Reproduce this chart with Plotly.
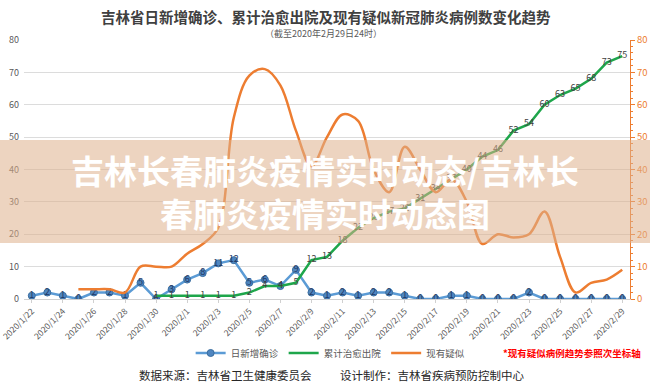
import plotly.graph_objects as go

dates = ['2020/1/22', '2020/1/23', '2020/1/24', '2020/1/25', '2020/1/26', '2020/1/27',
         '2020/1/28', '2020/1/29', '2020/1/30', '2020/1/31', '2020/2/1', '2020/2/2',
         '2020/2/3', '2020/2/4', '2020/2/5', '2020/2/6', '2020/2/7', '2020/2/8',
         '2020/2/9', '2020/2/10', '2020/2/11', '2020/2/12', '2020/2/13', '2020/2/14',
         '2020/2/15', '2020/2/16', '2020/2/17', '2020/2/18', '2020/2/19', '2020/2/20',
         '2020/2/21', '2020/2/22', '2020/2/23', '2020/2/24', '2020/2/25', '2020/2/26',
         '2020/2/27', '2020/2/28', '2020/2/29']

daily_new = [1, 2, 1, 0, 2, 2, 1, 5, 0, 3,
             6, 8, 11, 12, 5, 6, 4, 9, 2, 1,
             2, 1, 2, 2, 1, 0, 0, 1, 1, 0,
             0, 0, 2, 0, 0, 0, 0, 0, 0]

cured = [None, None, None, None, None, None, None, None,
         1, 1, 1, 1, 1, 1, 2, 4, 4, 5,
         12, 13, 18, 22, 25, 27, 28, 31, 34, 37,
         40, 44, 46, 52, 54, 60, 63, 65, 68, 73, 75]

suspected = [None, None, None, 3, 3, 3, 2, 10, 10, 10,
             14, 17, 22, 56, 69, 71, 66, 52, 41, 50,
             57, 55, 40, 33, 47, 40, 33, 37, 30, 17,
             20, 19, 20, 27, 13, 2, 5, 6, 9]

tick_dates = dates[::2]

BLUE = '#5b9bd5'
GREEN = '#1ea64b'
ORANGE = '#ed7d31'
GREY = '#595959'
FONT = 'Noto Sans CJK SC'

fig = go.Figure()

fig.add_trace(go.Scatter(
    x=dates, y=daily_new, name='日新增确诊', mode='lines+markers+text',
    line=dict(color=BLUE, width=2.5),
    marker=dict(symbol='circle', size=7, color='#4f86c0', line=dict(color='#3a6d9f', width=1)),
    text=[str(v) for v in daily_new], textposition='middle center',
    textfont=dict(size=9, color='#1f3864', family=FONT),
))

fig.add_trace(go.Scatter(
    x=dates, y=cured, name='累计治愈出院', mode='lines+text',
    line=dict(color=GREEN, width=2.5),
    text=['' if v is None else str(v) for v in cured], textposition='middle center',
    textfont=dict(size=9, color='#404040', family=FONT),
))

fig.add_trace(go.Scatter(
    x=dates, y=suspected, name='现有疑似', mode='lines', yaxis='y2',
    line=dict(color=ORANGE, width=2.5, shape='spline', smoothing=1.0),
))

# overlay band and its caption
fig.add_shape(type='rect', xref='paper', yref='paper', x0=-0.06, x1=1.06, y0=0.216, y1=0.614,
              fillcolor='rgba(222,176,140,0.55)', line=dict(width=0), layer='above')

fig.add_annotation(xref='paper', yref='paper', x=0.497, y=0.414, showarrow=False,
                   text='<b>吉林长春肺炎疫情实时动态/吉林长<br>春肺炎疫情实时动态图</b>',
                   font=dict(size=33, color='white', family=FONT), align='center')

# title & subtitle
fig.add_annotation(xref='paper', yref='paper', x=0.498, y=1.089, showarrow=False,
                   text='<b>吉林省日新增确诊、累计治愈出院及现有疑似新冠肺炎病例数变化趋势</b>',
                   font=dict(size=14.5, color='#404040', family=FONT), yanchor='middle')
fig.add_annotation(xref='paper', yref='paper', x=0.495, y=1.027, showarrow=False,
                   text='（截至2020年2月29日24时）',
                   font=dict(size=9, color=GREY, family=FONT), yanchor='middle')

# legend note
fig.add_annotation(xref='paper', yref='paper', x=0.904, y=-0.2085, showarrow=False,
                   xanchor='center', yanchor='middle',
                   text='<b>*现有疑似病例趋势参照次坐标轴</b>',
                   font=dict(size=9.5, color='#ff0000', family=FONT))

# footer
fig.add_annotation(xref='paper', yref='paper', x=0.186, y=-0.293, showarrow=False,
                   xanchor='left', yanchor='middle',
                   text='数据来源：吉林省卫生健康委员会',
                   font=dict(size=11.5, color='#262626', family=FONT))
fig.add_annotation(xref='paper', yref='paper', x=0.518, y=-0.293, showarrow=False,
                   xanchor='left', yanchor='middle',
                   text='设计制作：吉林省疾病预防控制中心',
                   font=dict(size=11.5, color='#262626', family=FONT))

fig.update_layout(
    width=650, height=384, autosize=False,
    margin=dict(l=24, r=20, t=40, b=85, autoexpand=False),
    paper_bgcolor='white', plot_bgcolor='white',
    font=dict(family=FONT, color=GREY),
    showlegend=True,
    legend=dict(orientation='h', x=0.275, y=-0.2085, xanchor='left', yanchor='middle',
                font=dict(size=9.5, color=GREY, family=FONT),
                itemwidth=30, tracegroupgap=0,
                bgcolor='rgba(0,0,0,0)'),
    xaxis=dict(type='category', categoryorder='array', categoryarray=dates,
               range=[-0.5, 38.5], tickmode='array', tickvals=tick_dates, ticktext=tick_dates,
               tickangle=-45, tickfont=dict(size=8.5, color=GREY, family=FONT),
               showgrid=False, showline=True, linecolor='#d0d0d0', linewidth=1,
               ticks='outside', ticklen=3, tickcolor='#d0d0d0', zeroline=False,
               automargin=False),
    yaxis=dict(range=[0, 80], dtick=10, tickfont=dict(size=9, color=GREY, family=FONT),
               gridcolor='#dcdcdc', gridwidth=1, zeroline=False, showline=False,
               automargin=False, ticklabelstandoff=4),
    yaxis2=dict(overlaying='y', side='right', range=[0, 80], dtick=10, showgrid=False,
                zeroline=False, showline=True, linecolor=ORANGE, linewidth=1,
                ticks='outside', ticklen=4, tickcolor=ORANGE,
                tickfont=dict(size=9.5, color=ORANGE, family=FONT),
                minor=dict(dtick=2, ticks='outside', ticklen=2, tickcolor=ORANGE),
                automargin=False),
)

fig.write_html('out.html', config={'displayModeBar': False},
               post_script="document.body.style.margin='0';")
